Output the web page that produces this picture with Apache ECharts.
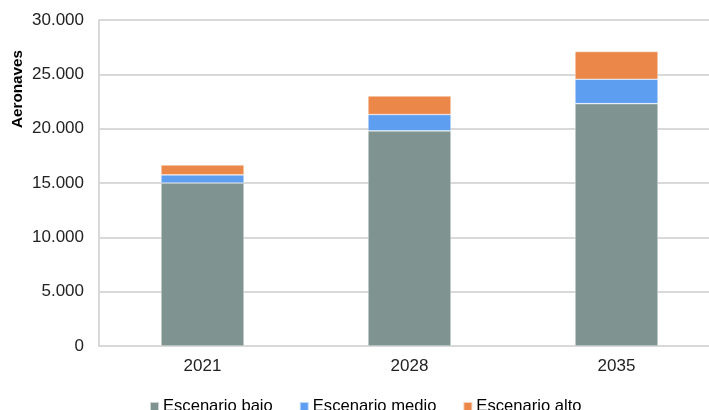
<!DOCTYPE html>
<html>
<head>
<meta charset="utf-8">
<script src="https://cdn.jsdelivr.net/npm/echarts@6/dist/echarts.min.js"></script>
<style>html,body{margin:0;padding:0;background:#fff;overflow:hidden;width:709px;height:410px;}#c{width:720px;height:410px;}</style>
</head>
<body>
<div id="c"></div>
<script>
var categories = ['2021', '2028', '2035'];
var escenarioBajo = [15000, 19800, 22300];
var escenarioMedio = [750, 1500, 2250];
var escenarioAlto = [900, 1700, 2550];
var yTicks = [0, 5000, 10000, 15000, 20000, 25000, 30000];

var chart = echarts.init(document.getElementById('c'));
var font = 'Liberation Sans, Arial, sans-serif';
function fmt(v){ return v === 0 ? '0' : String(v).replace(/\B(?=(\d{3})+(?!\d))/g, '.'); }
function mk(name, data, color){
  return {name: name, type: 'bar', stack: 'total', data: data, barWidth: 83,
    itemStyle: {color: color, borderColor: 'rgba(255,255,255,0.6)', borderWidth: 0.6}};
}
chart.setOption({
  animation: false,
  grid: {left: 99, top: 20, right: 0, bottom: 64, containLabel: false},
  legend: {
    top: 393, left: 144, itemWidth: 9, itemHeight: 9, itemGap: 26,
    icon: 'rect',
    textStyle: {fontFamily: font, fontSize: 16.6, color: '#000', padding: [0, 0, 0, -1]},
    data: ['Escenario bajo', 'Escenario medio', 'Escenario alto']
  },
  xAxis: {
    type: 'category', data: categories,
    axisLine: {lineStyle: {color: '#d9d9d9', width: 2}},
    axisTick: {show: false},
    axisLabel: {fontFamily: font, fontSize: 17, color: '#222', margin: 12}
  },
  yAxis: {
    type: 'value', min: yTicks[0], max: yTicks[yTicks.length - 1], interval: 5000,
    axisLine: {show: true, lineStyle: {color: '#d9d9d9', width: 2}},
    axisTick: {show: false},
    splitLine: {lineStyle: {color: '#d9d9d9', width: 2}},
    axisLabel: {fontFamily: font, fontSize: 17, color: '#222', margin: 15, formatter: fmt}
  },
  graphic: [{
    type: 'text', x: 18, y: 89, rotation: Math.PI / 2,
    style: {text: 'Aeronaves', fontFamily: font, fontSize: 15.3, fontWeight: 'bold', fill: '#000',
      textAlign: 'center', textVerticalAlign: 'middle'}
  }],
  series: [
    mk('Escenario bajo', escenarioBajo, '#7f9490'),
    mk('Escenario medio', escenarioMedio, '#5e9ef0'),
    mk('Escenario alto', escenarioAlto, '#ea8749')
  ]
});
</script>
</body>
</html>
